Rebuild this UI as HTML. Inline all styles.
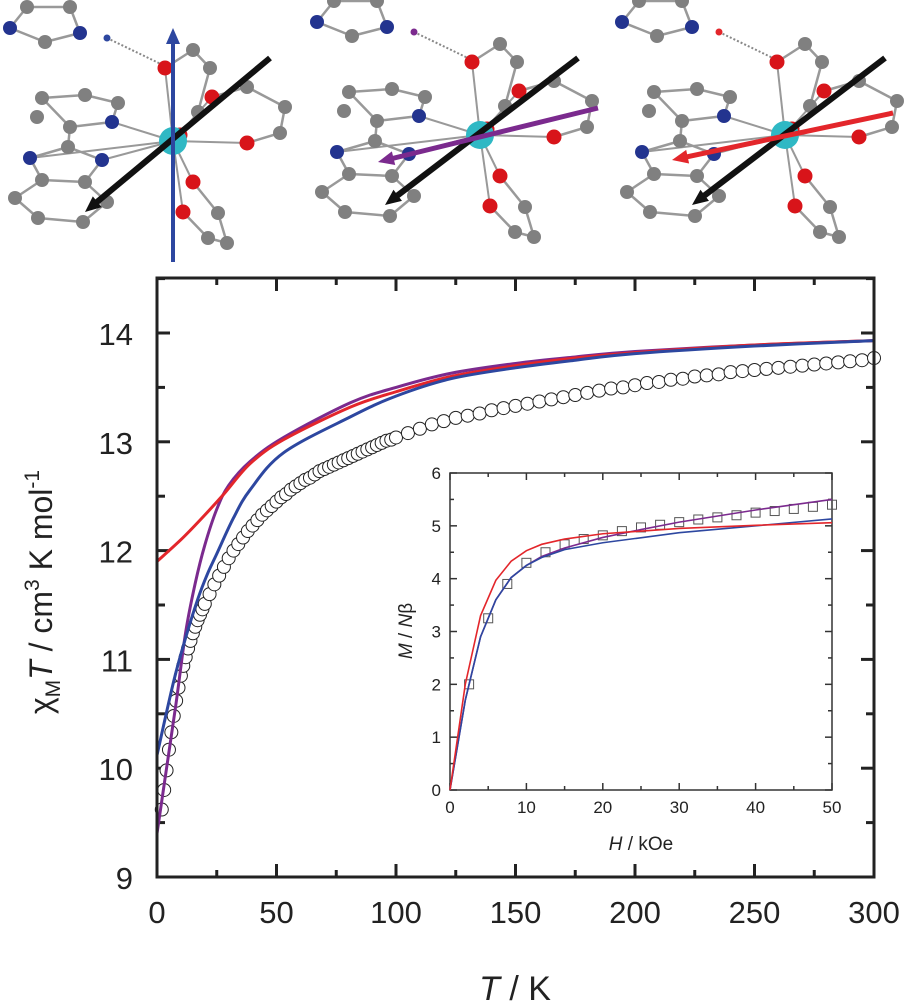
<!DOCTYPE html>
<html><head><meta charset="utf-8"><style>
body{margin:0;background:#fff;}
svg{display:block;font-family:"Liberation Sans",Arial,sans-serif;}
</style></head><body>
<svg id="fig" width="908" height="1004" viewBox="0 0 908 1004">
<g id="mol"></g>
<g id="main"></g>
<g id="inset"></g>
</svg>
<script>
// ---------- main chart data ----------
const chiT_T = [2,3,4,5,6,7,8,9,10,11,12,13,14,15,16,17,18,19,20,22,24,26,28,30,32,34,36,38,40,42,44,46,48,50,52,54,56,58,60,62,64,66,68,70,72,74,76,78,80,82,84,86,88,90,92,94,96,98,100,105,110,115,120,125,130,135,140,145,150,155,160,165,170,175,180,185,190,195,200,205,210,215,220,225,230,235,240,245,250,255,260,265,270,275,280,285,290,295,300];
const chiT_val = [9.62,9.8,9.98,10.17,10.33,10.48,10.62,10.74,10.85,10.94,11.02,11.1,11.17,11.24,11.3,11.36,11.41,11.46,11.51,11.6,11.69,11.77,11.85,11.93,12.0,12.06,12.12,12.18,12.23,12.28,12.33,12.37,12.41,12.45,12.49,12.52,12.56,12.59,12.62,12.65,12.67,12.7,12.73,12.75,12.77,12.79,12.81,12.83,12.85,12.87,12.89,12.91,12.93,12.95,12.97,12.99,13.01,13.02,13.04,13.08,13.12,13.16,13.19,13.22,13.24,13.26,13.29,13.31,13.33,13.35,13.37,13.39,13.41,13.43,13.45,13.47,13.49,13.5,13.52,13.54,13.55,13.57,13.58,13.6,13.61,13.62,13.64,13.65,13.66,13.67,13.68,13.69,13.7,13.71,13.72,13.73,13.74,13.75,13.77];
const redT = [0,10,18,28,39,53,81,100,123,150,175,200,250,300];
const redV = [11.9,12.1,12.28,12.52,12.8,13.02,13.32,13.46,13.6,13.7,13.77,13.82,13.89,13.93];
const purpleT = [0,4,8,12,16,20,25,30,39,53,81,100,123,150,175,200,250,300];
const purpleV = [9.4,10.0,10.6,11.25,11.7,12.05,12.38,12.6,12.82,13.04,13.36,13.5,13.63,13.72,13.78,13.83,13.89,13.93];
const blueT = [0,7,12,17,21,25,32,39,53,81,100,123,150,175,200,250,300];
const blueV = [10.12,10.8,11.2,11.55,11.78,11.97,12.3,12.56,12.9,13.23,13.42,13.58,13.68,13.75,13.81,13.88,13.93];
const xTicks = [0,50,100,150,200,250,300];
const yTicks = [9,10,11,12,13,14];
// ---------- inset data ----------
const magH = [2.5,5,7.5,10,12.5,15,17.5,20,22.5,25,27.5,30,32.5,35,37.5,40,42.5,45,47.5,50];
const magM = [2.0,3.25,3.9,4.3,4.5,4.65,4.75,4.82,4.9,4.97,5.02,5.07,5.12,5.16,5.2,5.25,5.28,5.32,5.36,5.4];
const iRedH = [0,2,4,6,8,10,12,15,20,30,40,50];
const iRedM = [0,2.0,3.3,3.97,4.33,4.53,4.65,4.75,4.85,4.95,5.01,5.06];
const iPurH = [0,2,4,6,8,10,12,15,20,25,30,40,50];
const iPurM = [0,1.7,2.9,3.6,4.02,4.25,4.42,4.58,4.78,4.93,5.07,5.3,5.5];
const iBluH = [0,2,4,6,8,10,12,15,20,30,40,50];
const iBluM = [0,1.7,2.9,3.6,4.02,4.25,4.4,4.55,4.68,4.87,5.0,5.13];
const ixTicks = [0,10,20,30,40,50];
const iyTicks = [0,1,2,3,4,5,6];

const NS="http://www.w3.org/2000/svg";
function mk(tag,attrs,parent){const e=document.createElementNS(NS,tag);for(const k in attrs)e.setAttribute(k,attrs[k]);parent.appendChild(e);return e;}
function smooth(pts){let d="M"+pts[0][0]+","+pts[0][1];for(let i=0;i<pts.length-1;i++){const p0=pts[Math.max(0,i-1)],p1=pts[i],p2=pts[i+1],p3=pts[Math.min(pts.length-1,i+2)];
const c1=[p1[0]+(p2[0]-p0[0])/6,p1[1]+(p2[1]-p0[1])/6],c2=[p2[0]-(p3[0]-p1[0])/6,p2[1]-(p3[1]-p1[1])/6];d+=" C"+c1+" "+c2+" "+p2;}return d;}

// ---------- main chart ----------
const main=document.getElementById('main');
const L=157,R=874,T0=278,B=877;
const X=t=>L+t*(R-L)/300;
const Y=v=>B-(v-9)*108.8;
let e;
for(let t=0;t<=300;t+=25){const len=t%50===0?13:7;
e=mk('line',{x1:X(t),x2:X(t),y1:B,y2:B-len,stroke:'#222','stroke-width':3},main);

e=mk('line',{x1:X(t),x2:X(t),y1:T0,y2:T0+len,stroke:'#222','stroke-width':3},main);
}
for(let v=9;v<=14.5;v+=0.5){const len=Math.abs(v-Math.round(v))<0.01?13:8;
e=mk('line',{x1:L,x2:L+len,y1:Y(v),y2:Y(v),stroke:'#222','stroke-width':3},main);

e=mk('line',{x1:R,x2:R-len,y1:Y(v),y2:Y(v),stroke:'#222','stroke-width':3},main);
}
xTicks.forEach(t=>{e=mk('text',{x:X(t),y:B+46,'font-size':31,'text-anchor':'middle',fill:'#222'},main);e.textContent=t;
});
yTicks.forEach(v=>{e=mk('text',{x:L-24,y:Y(v)+12,'font-size':31,'text-anchor':'end',fill:'#222'},main);e.textContent=v;
});
chiT_T.forEach((t,i)=>{e=mk('circle',{cx:X(t),cy:Y(chiT_val[i]),r:6.5,fill:'#fff',stroke:'#222','stroke-width':1},main);
});
[[purpleT,purpleV,'#7b2a8e','purple-fit-curve'],[redT,redV,'#e3262b','red-fit-curve'],[blueT,blueV,'#2d47a0','blue-fit-curve']].forEach(s=>{
e=mk('path',{d:smooth(s[0].map((t,i)=>[X(t),Y(s[1][i])])),fill:'none',stroke:s[2],'stroke-width':3},main);
});
e=mk('rect',{x:L,y:T0,width:R-L,height:B-T0,fill:'none',stroke:'#222','stroke-width':3},main);

e=mk('text',{x:515,y:1000,'font-size':34,'text-anchor':'middle',fill:'#222'},main);
e.innerHTML='<tspan font-style="italic">T</tspan> / K';

e=mk('text',{x:0,y:0,'font-size':32,'text-anchor':'middle',fill:'#222',transform:'translate(52,592) rotate(-90)'},main);
e.innerHTML='χ<tspan font-size="21" dy="8">M</tspan><tspan dy="-8" font-style="italic">T</tspan> / cm<tspan font-size="21" dy="-13">3</tspan><tspan dy="13"> K mol</tspan><tspan font-size="21" dy="-13">-1</tspan>';


// ---------- inset ----------
const ins=document.getElementById('inset');
const iL=450,iR=832,iT=473,iB=790;
const hx=h=>iL+h*(iR-iL)/50;
const my=m=>iB-m*(iB-iT)/6;
e=mk('rect',{x:iL,y:iT,width:iR-iL,height:iB-iT,fill:'#fff',stroke:'#333','stroke-width':1.5},ins);

for(let h=0;h<=50;h+=5){const len=h%10===0?7:4;
e=mk('line',{x1:hx(h),x2:hx(h),y1:iB,y2:iB-len,stroke:'#333','stroke-width':1.5},ins);

e=mk('line',{x1:hx(h),x2:hx(h),y1:iT,y2:iT+len,stroke:'#333','stroke-width':1.5},ins);
}
for(let m=0;m<=6;m+=0.5){const len=Number.isInteger(m)?7:4;
e=mk('line',{x1:iL,x2:iL+len,y1:my(m),y2:my(m),stroke:'#333','stroke-width':1.5},ins);

e=mk('line',{x1:iR,x2:iR-len,y1:my(m),y2:my(m),stroke:'#333','stroke-width':1.5},ins);
}
ixTicks.forEach(h=>{e=mk('text',{x:hx(h),y:iB+23,'font-size':17,'text-anchor':'middle',fill:'#222'},ins);e.textContent=h;
});
iyTicks.forEach(m=>{e=mk('text',{x:iL-9,y:my(m)+6,'font-size':17,'text-anchor':'end',fill:'#222'},ins);e.textContent=m;
});
magH.forEach((h,i)=>{e=mk('rect',{x:hx(h)-4.5,y:my(magM[i])-4.5,width:9,height:9,fill:'none',stroke:'#555','stroke-width':1},ins);
});
[[iPurH,iPurM,'#7b2a8e','inset-purple-curve'],[iBluH,iBluM,'#2d47a0','inset-blue-curve'],[iRedH,iRedM,'#e3262b','inset-red-curve']].forEach(s=>{
e=mk('polyline',{points:s[0].map((h,i)=>hx(h)+','+my(s[1][i])).join(' '),fill:'none',stroke:s[2],'stroke-width':1.6},ins);
});
e=mk('text',{x:641,y:850,'font-size':19,'text-anchor':'middle',fill:'#222'},ins);
e.innerHTML='<tspan font-style="italic">H</tspan> / kOe';

e=mk('text',{x:0,y:0,'font-size':19,'text-anchor':'middle',fill:'#222',transform:'translate(412,631) rotate(-90)'},ins);
e.innerHTML='<tspan font-style="italic">M</tspan> / <tspan font-style="italic">N</tspan>β';


// ---------- molecules ----------
const mol=document.getElementById('mol');
const greys=[[27,7],[70,7],[45,42],[42,98],[85,95],[118,103],[37,117],[70,127],[68,147],[42,180],[85,182],[15,198],[107,202],[38,218],[83,222],[193,50],[210,68],[198,112],[247,87],[285,107],[280,133],[218,213],[208,238],[227,243]];
const blues=[[10,28],[80,33],[112,122],[30,158],[102,160]];
const reds=[[165,68],[212,97],[180,135],[247,143],[193,182],[183,212]];
const bonds=[[[10,28],[27,7]],[[27,7],[70,7]],[[70,7],[80,33]],[[80,33],[45,42]],[[45,42],[10,28]],[[42,98],[85,95]],[[85,95],[118,103]],[[118,103],[112,122]],[[112,122],[70,127]],[[70,127],[42,98]],[[70,127],[68,147]],[[68,147],[30,158]],[[68,147],[102,160]],[[30,158],[42,180]],[[42,180],[85,182]],[[85,182],[102,160]],[[42,180],[15,198]],[[15,198],[38,218]],[[38,218],[83,222]],[[83,222],[107,202]],[[107,202],[85,182]],[[165,68],[193,50]],[[193,50],[210,68]],[[210,68],[198,112]],[[212,97],[247,87]],[[247,87],[285,107]],[[285,107],[280,133]],[[280,133],[247,143]],[[193,182],[218,213]],[[218,213],[227,243]],[[227,243],[208,238]],[[208,238],[183,212]]];
const center=[173,141];
const panels=[{dx:0,dy:0,arrow:'#2d47a0',a:[[173,262],[173,28]],b:[[270,58],[85,212]]},
 {dx:307,dy:-6,arrow:'#7b2a8e',a:[[598,108],[378,162]],b:[[578,58],[385,205]]},
 {dx:612,dy:-6,arrow:'#e3262b',a:[[893,113],[672,160]],b:[[885,58],[692,205]]}];
panels.forEach((p,pi)=>{const g=mk('g',{},mol);


const c=[center[0]+p.dx,center[1]+p.dy];
bonds.forEach(b=>mk('line',{x1:b[0][0]+p.dx,y1:b[0][1]+p.dy,x2:b[1][0]+p.dx,y2:b[1][1]+p.dy,stroke:'#999','stroke-width':2.5},g));
blues.slice(2).concat(reds).forEach(a=>mk('line',{x1:c[0],y1:c[1],x2:a[0]+p.dx,y2:a[1]+p.dy,stroke:'#999','stroke-width':2},g));
mk('line',{x1:107+p.dx,y1:38+p.dy,x2:165+p.dx,y2:66+p.dy,stroke:'#888','stroke-width':2,'stroke-dasharray':'2,2'},g);
greys.forEach(a=>mk('circle',{cx:a[0]+p.dx,cy:a[1]+p.dy,r:7,fill:'#808080'},g));
blues.forEach(a=>mk('circle',{cx:a[0]+p.dx,cy:a[1]+p.dy,r:7,fill:'#23348f'},g));
mk('circle',{cx:107+p.dx,cy:38+p.dy,r:3.5,fill:p.arrow},g);
reds.forEach(a=>mk('circle',{cx:a[0]+p.dx,cy:a[1]+p.dy,r:7.5,fill:'#d8141a'},g));
mk('circle',{cx:c[0],cy:c[1],r:14,fill:'#2fb8c4'},g);
[[p.b,'#111',6],[p.a,p.arrow,pi===0?4:5]].forEach(ar=>{const [s,t]=ar[0];const ang=Math.atan2(t[1]-s[1],t[0]-s[0]);
mk('line',{x1:s[0],y1:s[1],x2:t[0]-10*Math.cos(ang),y2:t[1]-10*Math.sin(ang),stroke:ar[1],'stroke-width':ar[2]},g);
const hx1=t[0]-16*Math.cos(ang)+7*Math.sin(ang),hy1=t[1]-16*Math.sin(ang)-7*Math.cos(ang);
const hx2=t[0]-16*Math.cos(ang)-7*Math.sin(ang),hy2=t[1]-16*Math.sin(ang)+7*Math.cos(ang);
mk('polygon',{points:t[0]+','+t[1]+' '+hx1+','+hy1+' '+hx2+','+hy2,fill:ar[1]},g);});
});
</script>
</body></html>
